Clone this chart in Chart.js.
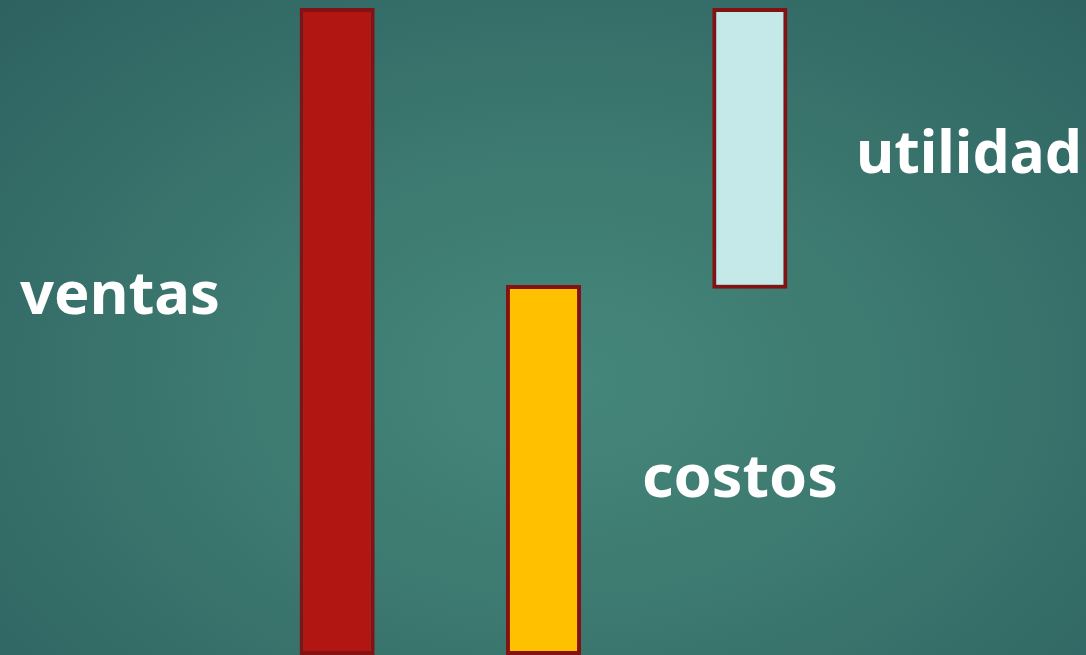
<!DOCTYPE html>
<html lang="es">
<head>
  <meta charset="UTF-8">
  <title>Ventas, costos y utilidad</title>
  <script src="https://cdn.jsdelivr.net/npm/chart.js"></script>
  <style>
    html, body {
      margin: 0;
      padding: 0;
      overflow: hidden;
    }
    body {
      width: 1086px;
      height: 655px;
      background: radial-gradient(ellipse 75% 85% at 52% 58%, #45877b 0%, #3c786f 45%, #2c6060 100%);
    }
    .chart-container {
      position: relative;
      width: 1086px;
      height: 655px;
    }
  </style>
</head>
<body>
  <div class="chart-container">
    <canvas id="waterfall"></canvas>
  </div>

  <script>
    // categories and floating bar ranges [start, end]
    const categories = ['ventas', 'costos', 'utilidad'];
    const barStart = [0, 0, 56.6];
    const barEnd = [100, 57.2, 100];
    const barColors = ['#b11613', '#ffc000', '#c5e8e9'];

    // label placement next to each bar (x left, baseline y, width)
    const labelSpots = [
      { x: 20, y: 314, w: 200 },
      { x: 642, y: 497, w: 196 },
      { x: 856, y: 173, w: 226 }
    ];

    const sideLabels = {
      id: 'sideLabels',
      afterDraw(chart) {
        const ctx = chart.ctx;
        ctx.save();
        ctx.fillStyle = '#ffffff';
        ctx.font = 'bold 60px "Noto Sans", sans-serif';
        ctx.textBaseline = 'alphabetic';
        categories.forEach((c, i) => {
          const s = labelSpots[i];
          const m = ctx.measureText(c).width;
          ctx.save();
          ctx.translate(s.x, s.y);
          ctx.scale(s.w / m, 1);
          ctx.fillText(c, 0, 0);
          ctx.restore();
        });
        ctx.restore();
      }
    };

    const ctx = document.getElementById('waterfall').getContext('2d');
    const chart = new Chart(ctx, {
      type: 'bar',
      data: {
        labels: categories,
        datasets: [{
          data: categories.map((c, i) => [barStart[i], barEnd[i]]),
          backgroundColor: barColors,
          borderColor: '#841212',
          borderWidth: 4,
          borderSkipped: false,
          barPercentage: 0.364,
          categoryPercentage: 1
        }]
      },
      options: {
        responsive: true,
        maintainAspectRatio: false,
        animation: false,
        layout: {
          padding: { left: 234, right: 233, top: 8, bottom: 0 }
        },
        scales: {
          x: { display: false },
          y: { display: false, min: 0, max: 100 }
        },
        plugins: {
          legend: { display: false },
          tooltip: { enabled: false }
        }
      },
      plugins: [sideLabels]
    });
  </script>
</body>
</html>
